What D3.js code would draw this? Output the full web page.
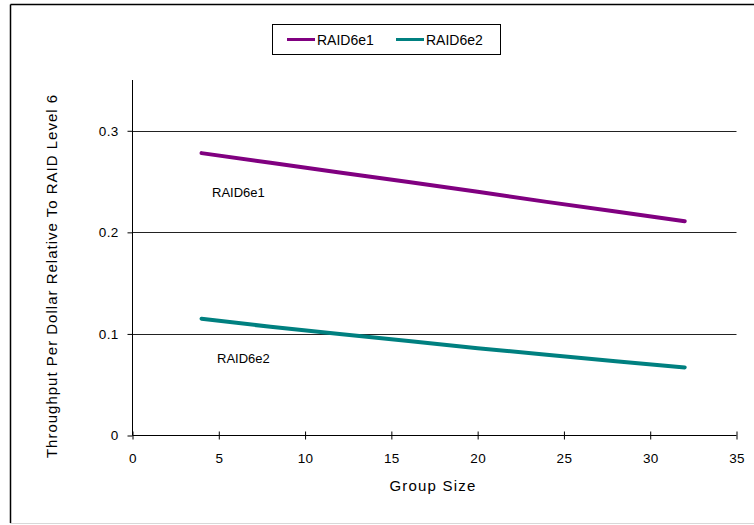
<!DOCTYPE html>
<html><head><meta charset="utf-8">
<script src="https://cdn.jsdelivr.net/npm/d3@7"></script>
<style>body{margin:0;background:#fff}text{font-family:"Liberation Sans",Arial,sans-serif;fill:#000}</style>
</head><body><svg id="c" width="754" height="525"></svg>
<script>
const groupSizes = [4, 8, 12, 16, 20, 24, 28, 32];
const raid6e1 = [0.278, 0.2685, 0.259, 0.2495, 0.240, 0.230, 0.2205, 0.211];
const raid6e2 = [0.115, 0.107, 0.100, 0.093, 0.086, 0.0795, 0.073, 0.067];
const seriesNames = ["RAID6e1", "RAID6e2"];
const seriesColors = ["#800080", "#008080"];
const xTicks = [0, 5, 10, 15, 20, 25, 30, 35];
const yTicks = [0, 0.1, 0.2, 0.3];
const xTitle = "Group Size";
const yTitle = "Throughput Per Dollar Relative To RAID Level 6";

const svg = d3.select("#c");
// outer frame
svg.append("line").attr("x1",10.5).attr("x2",10.5).attr("y1",4.5).attr("y2",523).attr("stroke","#000").attr("stroke-width",1.5);
svg.append("line").attr("x1",10.5).attr("x2",754).attr("y1",4.5).attr("y2",4.5).attr("stroke","#000").attr("stroke-width",1.5);
svg.append("line").attr("x1",10).attr("x2",754).attr("y1",523.5).attr("y2",523.5).attr("stroke","#d8d8d8");

const x = d3.scaleLinear().domain([0,35]).range([132.5,736.5]);
const y = d3.scaleLinear().domain([0,0.35]).range([435.5,80]);

// gridlines
svg.append("g").selectAll("line").data(yTicks.filter(d=>d>0)).join("line")
  .attr("x1",x(0)).attr("x2",x(35)).attr("y1",d=>Math.round(y(d))+0.5).attr("y2",d=>Math.round(y(d))+0.5)
  .attr("stroke","#222").attr("stroke-width",1);

// y axis
const ya = svg.append("g").attr("transform",`translate(${x(0)},0)`)
  .call(d3.axisLeft(y).tickValues(yTicks).tickSize(5).tickPadding(9).tickFormat(d=>d===0?"0":d3.format(".1f")(d)));
ya.select(".domain").attr("d",`M0,${y(0.35)}V${y(0)}`);
ya.selectAll("text").style("font-size","13.5px").style("letter-spacing","0.3px").attr("fill","#000");
ya.selectAll("line").attr("stroke","#000");

// x axis
const xa = svg.append("g").attr("transform",`translate(0,${y(0)})`)
  .call(d3.axisBottom(x).tickValues(xTicks).tickSize(4).tickPadding(14));
xa.select(".domain").attr("d",`M${x(0)},0H${x(35)}`);
xa.selectAll(".tick line").attr("y1",-4).attr("y2",4).attr("stroke","#000");
xa.selectAll("text").style("font-size","13.5px").style("letter-spacing","0.3px").attr("fill","#000");

// lines
const line = d3.line().x((d,i)=>x(groupSizes[i])).y(d=>y(d));
[raid6e1, raid6e2].forEach((s,k)=>{
  svg.append("path").datum(s).attr("d",line).attr("fill","none")
    .attr("stroke",seriesColors[k]).attr("stroke-width",4).attr("stroke-linecap","round").attr("stroke-linejoin","round");
});

// in-plot labels
svg.append("text").attr("x",212).attr("y",197).style("font-size","13px").text(seriesNames[0]);
svg.append("text").attr("x",217).attr("y",363).style("font-size","13px").text(seriesNames[1]);

// axis titles
svg.append("text").attr("x",433).attr("y",491).attr("text-anchor","middle").style("font-size","15px").style("letter-spacing","1.2px").text(xTitle);
svg.append("text").attr("transform","translate(57,276) rotate(-90)").attr("text-anchor","middle")
  .style("font-size","15px").style("letter-spacing","1px").text(yTitle);

// legend
const lg = svg.append("g");
lg.append("rect").attr("x",272.5).attr("y",24.5).attr("width",228).attr("height",30).attr("fill","#fff").attr("stroke","#000");
const lx = [287, 396];
seriesNames.forEach((n,k)=>{
  lg.append("line").attr("x1",lx[k]).attr("x2",lx[k]+28).attr("y1",39.5).attr("y2",39.5)
    .attr("stroke",seriesColors[k]).attr("stroke-width",3);
  lg.append("text").attr("x",lx[k]+30).attr("y",44.5).style("font-size","14px").text(n);
});
</script></body></html>
